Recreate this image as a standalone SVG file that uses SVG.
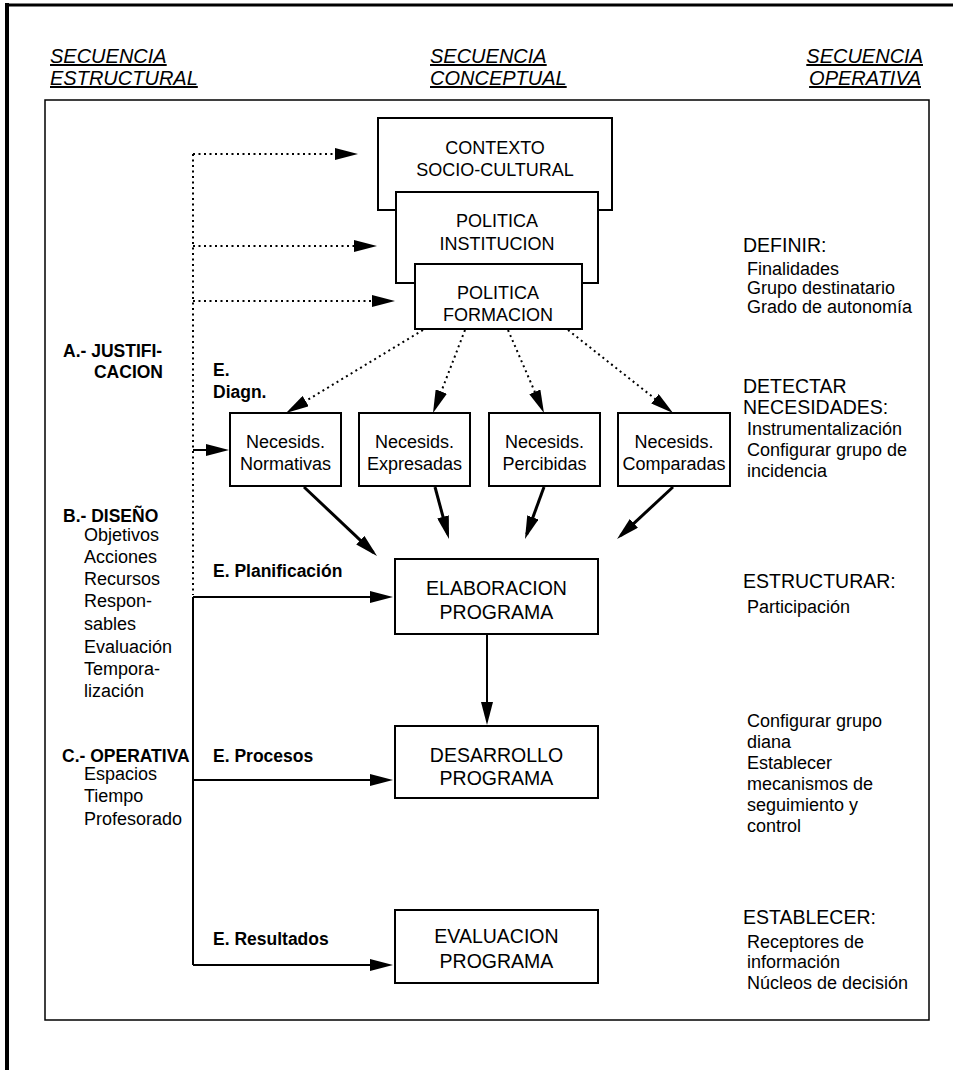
<svg xmlns="http://www.w3.org/2000/svg" width="953" height="1070" viewBox="0 0 953 1070">
<style>
text{font-family:"Liberation Sans",Arial,Helvetica,sans-serif;fill:#000}
.hd{font-size:20px;font-style:italic;text-decoration:underline}
.bx{fill:#fff;stroke:#000;stroke-width:2}
.t18{font-size:18px;text-anchor:middle}
.t17{font-size:18px;text-anchor:middle}
.t19{font-size:19.5px;text-anchor:middle}
.b{font-size:17.5px;font-weight:bold}
.it{font-size:18px}
.rt{font-size:19.5px}
.ri{font-size:18px}
.dot{fill:none;stroke:#000;stroke-width:2;stroke-dasharray:2 3.5}
.sol{fill:none;stroke:#000;stroke-width:2}
.thk{fill:none;stroke:#000;stroke-width:3}
</style>
<defs>
<marker id="ah" markerWidth="23" markerHeight="12" refX="18" refY="6" orient="auto" markerUnits="userSpaceOnUse"><path d="M0,0 L23,6 L0,12 z" fill="#000"/></marker>
</defs>
<rect width="953" height="1070" fill="#fff"/>
<g id="frame">
<line x1="7" y1="3" x2="7" y2="1070" stroke="#000" stroke-width="4"/>
<line x1="5" y1="5" x2="953" y2="5" stroke="#000" stroke-width="3"/>
<rect x="45" y="100" width="884" height="920" fill="none" stroke="#000" stroke-width="1.5"/>
</g>
<g id="headers">
<text class="hd" x="50" y="63">SECUENCIA</text>
<text class="hd" x="50" y="85">ESTRUCTURAL</text>
<text class="hd" x="430" y="63">SECUENCIA</text>
<text class="hd" x="430" y="85">CONCEPTUAL</text>
<text class="hd" x="923" y="63" text-anchor="end">SECUENCIA</text>
<text class="hd" x="921" y="85" text-anchor="end">OPERATIVA</text>
</g>
<g id="n-contexto">
<rect class="bx" x="378" y="118" width="234" height="92"/>
<text class="t18" x="495" y="154">CONTEXTO</text>
<text class="t18" x="495" y="176">SOCIO-CULTURAL</text>
</g>
<g id="n-institucion">
<rect class="bx" x="396" y="192" width="202" height="91"/>
<text class="t18" x="497" y="227">POLITICA</text>
<text class="t18" x="497" y="250">INSTITUCION</text>
</g>
<g id="n-formacion">
<rect class="bx" x="415" y="264" width="167" height="65"/>
<text class="t18" x="498" y="299">POLITICA</text>
<text class="t18" x="498" y="321">FORMACION</text>
</g>
<g id="n-normativas">
<rect class="bx" x="230" y="413" width="111" height="73"/>
<text class="t17" x="285.5" y="448">Necesids.</text>
<text class="t17" x="285.5" y="470">Normativas</text>
</g>
<g id="n-expresadas">
<rect class="bx" x="359" y="413" width="111" height="73"/>
<text class="t17" x="414.5" y="448">Necesids.</text>
<text class="t17" x="414.5" y="470">Expresadas</text>
</g>
<g id="n-percibidas">
<rect class="bx" x="489" y="413" width="111" height="73"/>
<text class="t17" x="544.5" y="448">Necesids.</text>
<text class="t17" x="544.5" y="470">Percibidas</text>
</g>
<g id="n-comparadas">
<rect class="bx" x="618" y="413" width="112" height="73"/>
<text class="t17" x="674" y="448">Necesids.</text>
<text class="t17" x="674" y="470">Comparadas</text>
</g>
<g id="n-elaboracion">
<rect class="bx" x="395" y="559" width="203" height="75"/>
<text class="t19" x="496.5" y="595">ELABORACION</text>
<text class="t19" x="496.5" y="619">PROGRAMA</text>
</g>
<g id="n-desarrollo">
<rect class="bx" x="395" y="726" width="203" height="72"/>
<text class="t19" x="496.5" y="762">DESARROLLO</text>
<text class="t19" x="496.5" y="785">PROGRAMA</text>
</g>
<g id="n-evaluacion">
<rect class="bx" x="395" y="910" width="203" height="73"/>
<text class="t19" x="496.5" y="943">EVALUACION</text>
<text class="t19" x="496.5" y="968">PROGRAMA</text>
</g>
<g id="connectors">
<path class="dot" d="M193,154 V595"/>
<path class="dot" d="M193,154 H353" marker-end="url(#ah)"/>
<path class="dot" d="M193,246 H372" marker-end="url(#ah)"/>
<path class="dot" d="M193,301 H390" marker-end="url(#ah)"/>
<path class="sol" d="M193,450 H224" marker-end="url(#ah)"/>
<path class="dot" d="M423,330 L290.3,410.4" marker-end="url(#ah)"/>
<path class="dot" d="M465,330 L434.8,408.3" marker-end="url(#ah)"/>
<path class="dot" d="M508,330 L542,408.4" marker-end="url(#ah)"/>
<path class="dot" d="M568,330 L669.1,409.9" marker-end="url(#ah)"/>
<path class="thk" d="M304,487 L373.4,552.6" marker-end="url(#ah)"/>
<path class="thk" d="M435,487 L447.7,534.2" marker-end="url(#ah)"/>
<path class="thk" d="M544,487 L526.7,534.3" marker-end="url(#ah)"/>
<path class="thk" d="M673,487 L620.7,535.6" marker-end="url(#ah)"/>
<path class="sol" d="M487,634 V720" marker-end="url(#ah)"/>
<path class="sol" d="M193,597 V965"/>
<path class="sol" d="M193,597 H388" marker-end="url(#ah)"/>
<path class="sol" d="M193,780 H388" marker-end="url(#ah)"/>
<path class="sol" d="M193,965 H388" marker-end="url(#ah)"/>
</g>
<g id="labels-estructural">
<text class="b" x="63" y="357">A.- JUSTIFI-</text>
<text class="b" x="163" y="378" text-anchor="end">CACION</text>
<text class="b" x="63" y="522">B.- DISEÑO</text>
<text class="it" x="84" y="541">Objetivos</text>
<text class="it" x="84" y="563">Acciones</text>
<text class="it" x="84" y="585">Recursos</text>
<text class="it" x="84" y="607">Respon-</text>
<text class="it" x="84" y="630">sables</text>
<text class="it" x="84" y="653">Evaluación</text>
<text class="it" x="84" y="675">Tempora-</text>
<text class="it" x="84" y="697">lización</text>
<text class="b" x="62" y="762">C.- OPERATIVA</text>
<text class="it" x="84" y="780">Espacios</text>
<text class="it" x="84" y="802">Tiempo</text>
<text class="it" x="84" y="825">Profesorado</text>
</g>
<g id="labels-evaluacion">
<text class="b" x="213" y="376">E.</text>
<text class="b" x="213" y="398">Diagn.</text>
<text class="b" x="213" y="577">E. Planificación</text>
<text class="b" x="213" y="762">E. Procesos</text>
<text class="b" x="213" y="945">E. Resultados</text>
</g>
<g id="labels-operativa">
<text class="rt" x="743" y="252">DEFINIR:</text>
<text class="ri" x="747" y="275">Finalidades</text>
<text class="ri" x="747" y="294">Grupo destinatario</text>
<text class="ri" x="747" y="313">Grado de autonomía</text>
<text class="rt" x="743" y="393">DETECTAR</text>
<text class="rt" x="743" y="414">NECESIDADES:</text>
<text class="ri" x="747" y="435">Instrumentalización</text>
<text class="ri" x="747" y="456">Configurar grupo de</text>
<text class="ri" x="747" y="477">incidencia</text>
<text class="rt" x="743" y="588">ESTRUCTURAR:</text>
<text class="ri" x="747" y="613">Participación</text>
<text class="ri" x="747" y="727">Configurar grupo</text>
<text class="ri" x="747" y="748">diana</text>
<text class="ri" x="747" y="769">Establecer</text>
<text class="ri" x="747" y="790">mecanismos de</text>
<text class="ri" x="747" y="811">seguimiento y</text>
<text class="ri" x="747" y="832">control</text>
<text class="rt" x="743" y="924">ESTABLECER:</text>
<text class="ri" x="747" y="948">Receptores de</text>
<text class="ri" x="747" y="968">información</text>
<text class="ri" x="747" y="989">Núcleos de decisión</text>
</g>
</svg>
